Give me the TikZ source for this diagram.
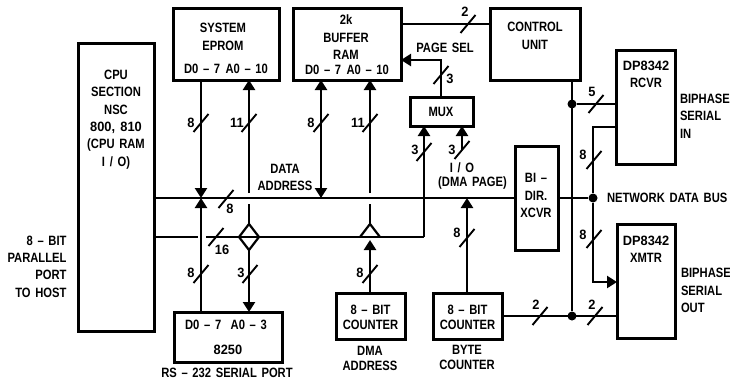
\documentclass[tikz,border=0pt]{standalone}
\usepackage{fontspec}
\setmainfont[FakeStretch=0.83,WordSpace=1.5]{Liberation Sans Bold}
\newfontfamily\numfont[FakeStretch=0.95,WordSpace=1.5]{Liberation Sans Bold}
\usetikzlibrary{arrows.meta,shapes.geometric}
\tikzset{
  box/.style={draw,line width=3pt,inner sep=0pt,outer sep=0pt,minimum width=#1},
  lbl/.style={inner sep=0pt,outer sep=0pt,align=center,font=\fontsize{13.5}{17.4}\selectfont,text=black},
  wire/.style={line width=2.4pt},
  arr/.style={line width=2.4pt,-{Triangle[width=12pt,length=10pt]}},
  dotn/.style={circle,fill=black,inner sep=0pt,minimum size=9pt},
  slash/.pic={\draw[line width=1.9pt] (-7.5,9) -- (7.5,-9);}
}
\begin{document}
\begin{tikzpicture}[x=1pt,y=-1pt]
\useasboundingbox (0,0) rectangle (730,380);
\fill[white] (0,0) rectangle (730,380);
% boxes
\node[box=76pt,minimum height=288pt] (cpu) at (116,187) {};
\node[box=106pt,minimum height=72pt] (eprom) at (226,44) {};
\node[box=108pt,minimum height=72pt] (ram) at (347,44) {};
\node[box=90pt,minimum height=72pt] (ctrl) at (535,44) {};
\node[box=59pt,minimum height=114pt] (rcvr) at (646,107) {};
\node[box=63pt,minimum height=29pt] (mux) at (441.5,111.5) {};
\node[box=43pt,minimum height=104pt] (xcvr) at (536.5,198) {};
\node[box=58pt,minimum height=114pt] (xmtr) at (646,281) {};
\node[box=108pt,minimum height=50pt] (uart) at (228,337) {};
\node[box=69pt,minimum height=46pt] (dma) at (370.5,316) {};
\node[box=69pt,minimum height=46pt] (byte) at (467.5,316) {};
% columns and rows
\coordinate (cA) at (201,0);
\coordinate (cB) at (249,0);
\coordinate (cC) at (321,0);
\coordinate (cD) at (370,0);
\coordinate (cE) at (424,0);
\coordinate (cF) at (462,0);
\coordinate (cG) at (467,0);
\coordinate (cH) at (572,0);
\coordinate (cI) at (593,0);
\coordinate (cJ) at (441,0);
\coordinate (rD) at (0,198);
\coordinate (rA) at (0,237);
\coordinate (rT) at (0,24);
\coordinate (rP) at (0,60);
\coordinate (rC) at (0,104);
\coordinate (rR) at (0,127);
\coordinate (rX) at (0,282);
\coordinate (rB) at (0,316);
\coordinate (gapa) at (198,237);
\coordinate (gapb) at (206,237);
\coordinate (busA) at (cA |- rD);
\coordinate (busB1) at (249,193);
\coordinate (busB2) at (249,204);
\coordinate (busD1) at (370,193);
\coordinate (busD2) at (370,204);
\coordinate (tri) at (370,224);
\coordinate (triL) at (360,237);
\coordinate (triR) at (380,237);
\coordinate (triB) at (370,240);
\coordinate (inF) at (462,150);
% junctions
\node[dotn] (j1) at (cH |- rC) {};
\node[dotn] (j2) at (cH |- rB) {};
\node[dotn] (j3) at (cI |- rD) {};
\node[draw,diamond,line width=2.2pt,inner sep=0pt,outer sep=0pt,minimum width=20pt,minimum height=26pt,aspect=0.77] (dia) at (cB |- rA) {};
% buses
\draw[wire] (cpu.east |- rD) -- (xcvr.west |- rD);
\draw[wire] (xcvr.east |- rD) -- (j3);
\draw[wire] (cpu.east |- rA) -- (gapa);
\draw[wire] (gapb) -- (cE |- rA);
\draw[arr] (cE |- rA) -- (cE |- mux.south);
\draw[arr] (inF) -- (cF |- mux.south);
% vertical connections
\draw[arr] (cA |- eprom.south) -- (busA);
\draw[arr] (cA |- uart.north) -- (busA);
\draw[arr] (busB1) -- (cB |- eprom.south);
\draw[wire] (busB2) -- (dia.north);
\draw[arr] (dia.south) -- (cB |- uart.north);
\draw[arr] (cC |- ram.south) -- (cC |- rD);
\draw[arr] (cC |- rD) -- (cC |- ram.south);
\draw[arr] (busD1) -- (cD |- ram.south);
\draw[wire] (busD2) -- (tri);
\draw[line width=2.2pt] (triL) -- (tri) -- (triR);
\draw[arr] (cD |- dma.north) -- (triB);
\draw[arr] (cG |- byte.north) -- (cG |- rD);
\draw[wire] (ram.east |- rT) -- (ctrl.west |- rT);
\draw[arr] (cJ |- mux.north) -- (cJ |- rP) -- (ram.east |- rP);
\draw[wire] (cH |- ctrl.south) -- (j2);
\draw[wire] (j1) -- (rcvr.west |- rC);
\draw[wire] (rcvr.west |- rR) -- (cI |- rR) -- (j3);
\draw[arr] (j3) -- (cI |- rX) -- (xmtr.west |- rX);
\draw[wire] (byte.east |- rB) -- (xmtr.west |- rB);
% bus width marks
\foreach \px/\py in {201/123,249/123,321/123,370/123,226/199,216/237,201/274,250/274,370/274,467/238,424/152,462/150,468/24,441/75,596/104,594/160,594/239,540/316,595/316}
  \pic at (\px,\py) {slash};
% box texts
\node[lbl] (tcpu) at (116,119.5) {CPU\\SECTION\\NSC\\{\numfont 800, 810}\\(CPU RAM\\I / O)};
\node[lbl] (tep) at (223,37) {SYSTEM\\EPROM};
\node[lbl] (tepb) at (226,69) {D0 – 7\hspace{0.4em}A0 – 10};
\node[lbl] (tram) at (346,37.5) {2k\\BUFFER\\RAM};
\node[lbl] (tramb) at (347,70) {D0 – 7\hspace{0.4em}A0 – 10};
\node[lbl] (tctl) at (535,36) {CONTROL\\UNIT};
\node[lbl] (tmux) at (441,112) {MUX};
\node[lbl] (txc) at (536,195.5) {BI –\\DIR.\\XCVR};
\node[lbl] (trc) at (646,74.5) {{\numfont DP8342}\\RCVR};
\node[lbl] (txm) at (646,249) {{\numfont DP8342}\\XMTR};
\node[lbl] (tua) at (226,325) {D0 – 7\hspace{0.7em}A0 – 3};
\node[lbl] (tub) at (228,350) {\numfont 8250};
\node[lbl] (tdm) at (370.5,317.5) {8 – BIT\\[-2.4pt]COUNTER};
\node[lbl] (tby) at (467.5,317.5) {8 – BIT\\[-2.4pt]COUNTER};
% free texts
\node[lbl,align=right,anchor=east] (thost) at (66.5,266.5) {8 – BIT\\PARALLEL\\PORT\\TO HOST};
\node[lbl] (trs) at (227,373) {RS – 232 SERIAL PORT};
\node[lbl] (tdma) at (370,358.5) {DMA\\[-2.4pt]ADDRESS};
\node[lbl] (tbc) at (467,357.5) {BYTE\\[-2.4pt]COUNTER};
\node[lbl] (tda) at (285,177.5) {DATA\\ADDRESS};
\node[lbl] (tps) at (445,48) {PAGE SEL};
\node[lbl] (tio) at (462,168) {I / O};
\node[lbl] (tpg) at (472.5,183) {(DMA PAGE)};
\node[lbl,anchor=west] (tnet) at (607,198) {NETWORK DATA BUS};
\node[lbl,anchor=west,align=left] (tin) at (680,116) {BIPHASE\\SERIAL\\IN};
\node[lbl,anchor=west,align=left] (tout) at (681,290.5) {BIPHASE\\SERIAL\\OUT};
% width labels
\foreach \px/\py/\t in {191/123/8,237/123/11,311/123/8,358/123/11,230/209/8,222/250/16,191/273/8,241/273/3,360/273/8,457/233/8,415/150/3,452/150/3,465/12/2,450/79/3,592/92/5,583/155/8,583/235/8,536/305/2,592/305/2}
  \node[lbl] at (\px,\py) {\numfont\t};
\end{tikzpicture}
\end{document}
